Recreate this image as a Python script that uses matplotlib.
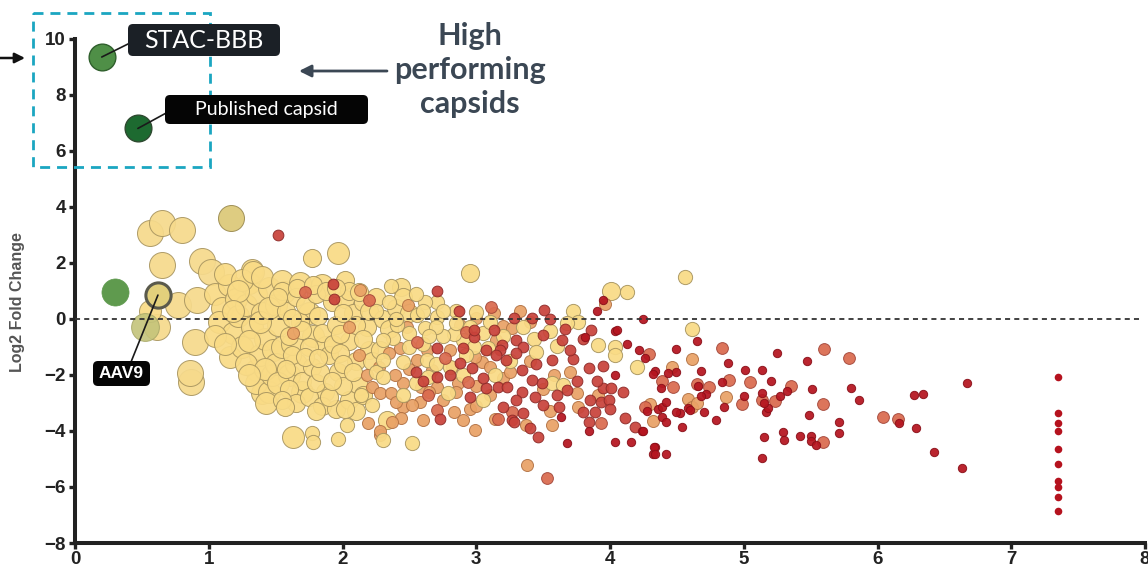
import matplotlib
matplotlib.use('Agg')
import matplotlib.pyplot as plt
from matplotlib.patches import FancyBboxPatch, Rectangle

# ---- data (x = enrichment score, y = log2 fold change) ----
yellow_xl = [(0.56, 3.07), (0.65, 3.43), (0.80, 3.18), (0.65, 1.93), (0.61, -0.3),
             (0.77, 0.5), (0.95, 2.05), (1.02, 1.68), (0.87, -2.25), (0.86, -1.93),
             (0.9, -0.82), (0.91, 0.68)]
olive_big = [(1.17, 3.6)]

yellow_l = [(0.56, 0.3), (1.32, 1.75), (1.97, 2.36), (1.56, 0.96), (1.16, -1.35),
            (1.35, -1.82), (1.40, -2.64), (1.63, -4.2), (1.05, 0.9), (1.1, 0.4),
            (1.08, -0.1), (1.15, 1.2), (1.2, 0.7), (1.18, -0.5), (1.22, 0.1),
            (1.25, -1.0), (1.3, 1.3), (1.28, 0.5), (1.32, -0.3), (1.35, 0.9),
            (1.38, -1.3), (1.4, 0.2), (1.42, -0.7), (1.45, 1.1), (1.5, 0.5),
            (1.48, -1.1), (1.52, -0.2), (1.12, 1.6), (1.25, 1.4), (1.35, -2.3),
            (1.45, -2.6), (1.47, -2.0), (1.5, -1.6), (1.33, 1.68), (1.43, -3.0),
            (1.05, -0.6), (1.12, -0.9), (1.28, -1.6), (1.3, -0.8), (1.38, -0.1),
            (1.4, 1.5), (1.55, 1.35), (1.45, 0.4), (1.55, -1.0), (1.6, -2.0),
            (1.42, -1.8), (1.52, -2.3), (1.3, -2.0), (1.22, 1.0), (1.18, 0.3),
            (1.65, -1.6), (1.68, 1.3), (1.75, 0.2), (1.78, -0.6), (1.85, 1.2),
            (1.88, -1.0), (1.62, -0.9), (1.7, -2.6)]

yellow_m = [(1.55, 1.0), (1.58, 0.3), (1.6, -0.6), (1.62, -1.3), (1.65, 0.8),
            (1.68, -0.1), (1.7, -2.2), (1.72, 0.5), (1.75, -1.0), (1.77, -1.7),
            (1.8, 0.9), (1.82, 0.1), (1.85, -0.5), (1.87, -2.6), (1.9, -1.3),
            (1.92, 0.6), (1.95, -0.2), (1.97, -1.9), (1.6, -2.5), (1.65, -3.0),
            (1.75, -2.8), (1.85, -3.1), (1.95, -3.2), (1.58, -1.8), (1.7, -0.4),
            (1.8, -2.3), (1.55, -2.9), (1.57, -3.14), (1.77, 2.18), (2.02, 1.39),
            (2.44, 1.15), (2.95, 1.65), (4.01, 1.0), (2.02, 0.7), (2.05, -0.8),
            (2.08, 0.2), (2.1, -1.5), (2.12, -2.4), (2.15, 0.6), (2.18, -0.3),
            (2.2, -1.1), (2.05, -2.9), (2.1, -3.3), (2.33, -3.61), (1.52, 0.8),
            (1.66, 1.1), (1.78, 1.2), (1.88, 1.0), (1.93, -0.9), (2.0, -2.4),
            (1.98, -1.2), (2.0, 0.2), (1.72, -1.35), (1.62, 0.05), (1.83, -1.9),
            (1.9, -2.8), (2.05, 1.0), (2.1, -0.2), (2.15, -0.7), (2.2, 0.3),
            (2.22, -1.5), (2.25, 0.8), (2.0, -1.6), (1.92, -2.2), (2.08, -1.9),
            (2.15, -2.7), (1.82, -1.4), (1.95, 1.1), (2.3, 0.0), (2.35, -0.35),
            (2.4, 0.4), (2.28, -1.1), (2.45, 0.8), (2.5, 0.2), (1.98, -0.55),
            (2.02, -3.2), (1.8, -3.3), (2.12, 0.95)]

yellow_s = [(1.77, -4.07), (1.78, -4.4), (1.97, -4.3), (2.03, -3.79), (2.3, -4.32),
            (2.52, -4.43), (2.22, -3.07), (2.36, 1.18), (2.25, 0.3), (2.25, -1.9),
            (2.71, 0.07), (2.71, 0.61), (2.62, 0.61), (2.56, 0.14), (2.62, -0.32),
            (2.5, -0.5), (2.5, -1.0), (2.63, -1.46), (2.64, -2.07), (2.3, -2.07),
            (2.14, -2.71), (2.38, -0.68), (2.3, -0.75), (2.3, -1.46), (2.45, -1.54),
            (2.41, -0.21), (2.9, -0.75), (2.98, -1.0), (3.09, -1.04), (2.83, -0.54),
            (2.75, -0.61), (2.79, -2.64), (3.14, -2.0), (3.43, -0.71), (3.45, -1.19),
            (3.55, -0.42), (3.72, 0.29), (3.76, -0.1), (3.68, -0.13), (3.91, -0.93),
            (4.04, -0.99), (4.04, -1.28), (4.2, -1.7), (3.57, -2.29), (3.65, -2.36),
            (4.13, 0.96), (4.56, 1.5), (4.61, -0.36), (2.35, 0.6), (2.4, 0.0),
            (2.45, -2.7), (2.55, 0.9), (2.6, -0.9), (2.7, -0.3), (2.85, 0.3),
            (3.0, 0.25), (2.92, -1.3), (2.8, -1.7), (3.05, -0.5), (2.6, 0.3),
            (2.65, -0.6), (2.55, -2.3), (2.7, -1.6), (2.75, 0.3), (2.85, -0.15),
            (2.95, -0.3), (3.1, -0.1), (3.2, -0.6), (3.35, -0.3), (3.25, -1.5),
            (3.6, -0.95), (2.9, -2.0), (3.05, -2.9)]

orange = [(2.13, 1.04), (2.49, 0.5), (2.88, -0.21), (3.2, -0.25), (3.27, -0.32),
          (3.0, 0.03), (3.33, 0.29), (3.13, 0.22), (3.96, 0.53), (2.48, -0.29),
          (2.43, -1.04), (2.63, -1.11), (2.56, -1.46), (2.67, -1.82), (2.8, -1.11),
          (2.82, -1.71), (3.04, -1.54), (2.99, -1.36), (2.86, -2.29), (3.0, -2.39),
          (3.2, -2.11), (2.71, -2.43), (2.59, -2.43), (2.45, -2.29), (2.39, -2.0),
          (2.27, -1.71), (2.22, -2.43), (2.28, -2.64), (2.36, -2.64), (2.58, -2.96),
          (2.45, -3.14), (2.52, -3.07), (2.44, -3.54), (2.37, -3.67), (2.28, -4.14),
          (2.19, -3.72), (2.28, -4.0), (2.83, -3.32), (2.9, -3.61), (2.99, -3.96),
          (3.14, -3.57), (3.37, -3.79), (3.57, -3.79), (3.58, -2.0), (3.75, -2.64),
          (3.91, -2.71), (3.76, -3.14), (3.38, -5.2), (1.63, -0.5), (2.12, -1.3),
          (2.18, -2.0), (2.35, -1.2), (4.61, -1.43), (4.46, -1.7), (4.87, -2.78),
          (4.58, -2.85), (4.61, -3.13), (4.65, -3.01), (4.32, -3.64), (4.3, -3.05),
          (2.05, -0.3), (2.5, -1.8), (2.65, -2.6), (2.75, -2.9), (2.85, -2.6),
          (2.95, -3.2), (3.1, -2.7), (3.1, -1.7), (3.25, -1.9), (3.4, -1.5),
          (3.5, -2.5), (3.15, -0.75), (3.4, -0.1), (3.55, -3.3), (3.7, -1.9),
          (2.6, -3.6), (2.4, -2.95), (3.0, -3.1)]

red_orange = [(2.2, 0.68), (3.11, 0.43), (3.53, -5.67), (3.16, -3.57), (3.93, -3.7),
              (4.84, -1.03), (5.6, -1.07), (5.79, -1.38), (4.29, -1.25), (5.05, -2.24),
              (4.89, -2.18), (4.39, -2.2), (4.47, -2.44), (4.65, -2.33), (4.74, -2.44),
              (5.14, -2.89), (5.23, -2.93), (5.35, -2.4), (5.59, -3.05), (4.26, -3.13),
              (6.04, -3.51), (6.15, -3.57), (5.59, -4.4), (4.99, -3.05), (2.64, -2.71),
              (2.94, -2.25), (2.71, -3.25), (3.27, -3.32), (2.77, -1.39), (2.56, -0.82),
              (1.72, 0.96), (2.92, -0.46)]

red = [(1.52, 3.0), (1.93, 1.25), (1.94, 0.71), (2.71, 0.98), (2.87, 0.29),
       (3.51, 0.32), (3.28, 0.03), (3.42, 0.02), (3.66, -0.37), (3.13, -0.39),
       (3.19, -0.93), (3.3, -0.75), (3.35, -0.99), (3.3, -1.21), (3.18, -1.11),
       (3.22, -1.46), (3.34, -1.82), (3.5, -0.57), (3.64, -0.75), (3.8, -0.72),
       (3.86, -0.39), (3.57, -1.46), (3.72, -1.44), (3.84, -1.75), (3.95, -1.68),
       (3.49, -2.29), (3.42, -2.18), (3.34, -2.61), (3.44, -2.79), (3.5, -3.07),
       (3.62, -3.14), (3.68, -2.54), (3.85, -2.89), (3.93, -2.96), (3.99, -2.89),
       (3.95, -2.46), (4.01, -2.46), (3.27, -3.61), (3.35, -3.36), (3.2, -3.14),
       (2.73, -3.57), (2.95, -2.79), (3.07, -2.46), (3.16, -2.43), (3.23, -2.43),
       (2.88, -1.57), (2.97, -1.75), (3.07, -1.11), (2.98, -0.64), (2.98, -0.39),
       (2.71, -1.04), (2.55, -1.89), (2.71, -2.07), (3.28, -3.67), (3.46, -4.2),
       (3.8, -3.32), (3.89, -3.32), (3.84, -3.67), (4.11, -3.54), (4.19, -3.86),
       (2.6, -2.2), (2.8, -2.0), (3.05, -2.1), (3.3, -2.9), (3.6, -2.7),
       (3.7, -1.1), (3.45, -1.6), (3.15, -1.3), (2.9, -1.05), (3.55, 0.0),
       (3.75, -2.2), (3.9, -2.2), (4.1, -2.6), (4.0, -3.2), (3.4, -3.9)]

dark_red = [(3.95, 0.68), (3.9, 0.29), (4.25, 0.0), (4.04, -0.42), (4.04, -2.0),
            (3.63, -3.5), (3.84, -3.99), (3.68, -4.43), (4.04, -4.4), (4.24, -4.0),
            (4.16, -4.39), (4.34, -4.57), (4.32, -4.82), (4.65, -0.78), (5.25, -1.22),
            (5.47, -1.5), (4.88, -1.58), (4.49, -1.08), (4.26, -1.4), (4.49, -1.88),
            (4.34, -1.86), (4.32, -1.96), (4.43, -1.94), (4.68, -1.85), (5.01, -1.82),
            (5.14, -1.82), (5.2, -2.2), (4.84, -2.24), (4.38, -2.45), (4.66, -2.38),
            (4.72, -2.68), (4.68, -2.75), (5.0, -2.74), (5.14, -2.63), (5.27, -2.74),
            (5.32, -2.56), (5.51, -2.5), (5.8, -2.48), (5.86, -2.89), (4.85, -3.14),
            (4.58, -3.18), (4.6, -3.25), (4.7, -3.32), (4.52, -3.36), (4.49, -3.31),
            (4.79, -3.61), (4.54, -3.85), (4.28, -3.29), (4.36, -3.22), (4.39, -3.13),
            (4.42, -2.96), (4.39, -3.49), (4.42, -3.67), (4.25, -3.99), (4.33, -4.56),
            (4.34, -4.82), (4.42, -4.82), (5.15, -4.2), (5.29, -4.04), (5.3, -4.32),
            (5.14, -4.96), (5.42, -4.18), (5.5, -4.18), (5.5, -4.35), (5.54, -4.5),
            (5.49, -3.43), (5.71, -3.67), (5.71, -4.06), (5.17, -3.31), (5.18, -3.18),
            (5.15, -3.0), (6.16, -3.71), (6.27, -2.71), (6.34, -2.69), (6.29, -3.9),
            (6.42, -4.75), (6.63, -5.32), (6.67, -2.29), (4.05, -0.4), (4.13, -0.9),
            (4.22, -1.1), (3.81, -0.64)]

# capsids with a score off the end of the scale
column_x = 7.35
column_y = [-2.06, -3.37, -3.7, -3.99, -4.65, -5.18, -5.79, -5.99, -6.35, -6.86]

stac_bbb = (0.2, 9.35)
published = (0.47, 6.8)
green_hit = (0.3, 0.95)
olive_hit = (0.52, -0.3)
aav9 = (0.62, 0.85)

x_ticks = [0, 1, 2, 3, 4, 5, 6, 7, 8]
y_ticks = [-8, -6, -4, -2, 0, 2, 4, 6, 8, 10]

# ---- figure ----
W, H = 1148, 571
fig = plt.figure(figsize=(W / 100, H / 100), dpi=100)
ax = fig.add_axes([75 / W, 28 / H, 1070 / W, 521 / H])


def dots(pts, s, fc, ec, z, alpha=0.93):
    xs = [p[0] for p in pts]
    ys = [p[1] for p in pts]
    ax.scatter(xs, ys, s=s, c=fc, edgecolors=ec, linewidths=0.7, alpha=alpha, zorder=z)


dots(yellow_xl, 350, '#F6DA8C', '#A89560', 2)
dots(olive_big, 350, '#DCC877', '#9A8A50', 2)
dots(yellow_l, 250, '#F9DB86', '#A89560', 3)
dots(yellow_m, 170, '#F9DB86', '#A89560', 4)
dots(orange, 75, '#E9A266', '#B27245', 5)
dots(yellow_s, 105, '#F9DB86', '#A89560', 6)
dots(red_orange, 72, '#DA6A4E', '#A4473A', 7)
dots(red, 60, '#C9433B', '#8E2A28', 8)
dots(dark_red, 36, '#B5141F', '#8A0F18', 9)
ax.scatter([column_x] * len(column_y), column_y, s=30, c='#B5121E', linewidths=0, zorder=9)

ax.scatter(*stac_bbb, s=370, c='#4F8F47', edgecolors='#2F5F2C', linewidths=1, zorder=10)
ax.scatter(*published, s=370, c='#1D6A30', edgecolors='#2E4A30', linewidths=1, zorder=10)
ax.scatter(*green_hit, s=380, c='#5F9A4E', edgecolors='#5F9A4E', linewidths=0.5, zorder=10)
ax.scatter(*olive_hit, s=400, c='#C4C47A', edgecolors='#A8A868', linewidths=0.7,
           alpha=0.9, zorder=10)
ax.scatter(*aav9, s=330, c='#E2D07C', edgecolors='#5A5A4C', linewidths=2.2, zorder=11)

ax.axhline(0, xmin=0, xmax=0.995, color='#333333', lw=1.3, ls=(0, (2.8, 2.3)), zorder=12)

ax.set_xlim(0, 8)
ax.set_ylim(-8, 10.6)
ax.set_xticks(x_ticks)
ax.set_yticks(y_ticks)
for side in ['top', 'right']:
    ax.spines[side].set_visible(False)
for side in ['left', 'bottom']:
    ax.spines[side].set_linewidth(2.9)
    ax.spines[side].set_color('#222222')
ax.spines['left'].set_bounds(-8, 10)
ax.tick_params(axis='both', width=2.4, length=4.5, color='#222222', labelcolor='#222222')
ax.tick_params(axis='y', pad=2)
ax.tick_params(axis='x', pad=1.5)
for lab in ax.get_xticklabels() + ax.get_yticklabels():
    lab.set_fontfamily('Liberation Sans')
    lab.set_fontweight('bold')
    lab.set_fontsize(13.5)
ax.patch.set_alpha(0)

fig.text(18 / W, 1 - 302 / H, 'Log2 Fold Change', rotation=90, ha='center', va='center',
         fontsize=11.5, fontweight='bold', color='#555555', family='Liberation Sans')

# ---- overlay in pixel coordinates for the callouts ----
ov = fig.add_axes([0, 0, 1, 1], zorder=5)
ov.set_xlim(0, W)
ov.set_ylim(H, 0)
ov.axis('off')
ov.patch.set_alpha(0)

ov.add_patch(Rectangle((33, 13), 177, 154, fill=False, ec='#1BA6C1', lw=2,
                       ls=(0, (3.6, 2.5))))
ov.annotate('', xy=(25, 58), xytext=(0, 58),
            arrowprops=dict(arrowstyle='-|>', color='#111111', lw=1.8, mutation_scale=15,
                            shrinkA=0, shrinkB=0))

ov.text(470, 70, 'High\nperforming\ncapsids', ha='center', va='center', fontsize=22,
        fontweight='bold', family='Lato', color='#3B4754', linespacing=1.26)
ov.annotate('', xy=(299, 71), xytext=(387, 71),
            arrowprops=dict(arrowstyle='-|>', color='#3B4754', lw=2, mutation_scale=18,
                            shrinkA=0, shrinkB=0))


def callout(x0, y0, w, h, text, target, start, size, family, weight, color):
    ov.annotate('', xy=target, xycoords=ax.transData, xytext=start, textcoords='data',
                arrowprops=dict(arrowstyle='-', color='#1A1A1A', lw=1.2, shrinkA=0, shrinkB=0),
                zorder=3)
    ov.add_patch(FancyBboxPatch((x0, y0), w, h, boxstyle='round,pad=0,rounding_size=5',
                                fc=color, ec='none', zorder=4))
    ov.text(x0 + w / 2, y0 + h / 2, text, ha='center', va='center', color='white',
            fontsize=size, family=family, fontweight=weight, zorder=5)


callout(128, 24, 152, 32, 'STAC-BBB', stac_bbb, (132, 42), 18, 'Lato', 'normal', '#1B2026')
callout(165, 95, 203, 29, 'Published capsid', published, (168, 112), 14, 'Lato', 'normal',
        '#050505')
callout(93, 361, 57, 25, 'AAV9', aav9, (131, 362), 12.5, 'Liberation Sans', 'bold', '#050505')

fig.savefig('out.png', dpi=100)
